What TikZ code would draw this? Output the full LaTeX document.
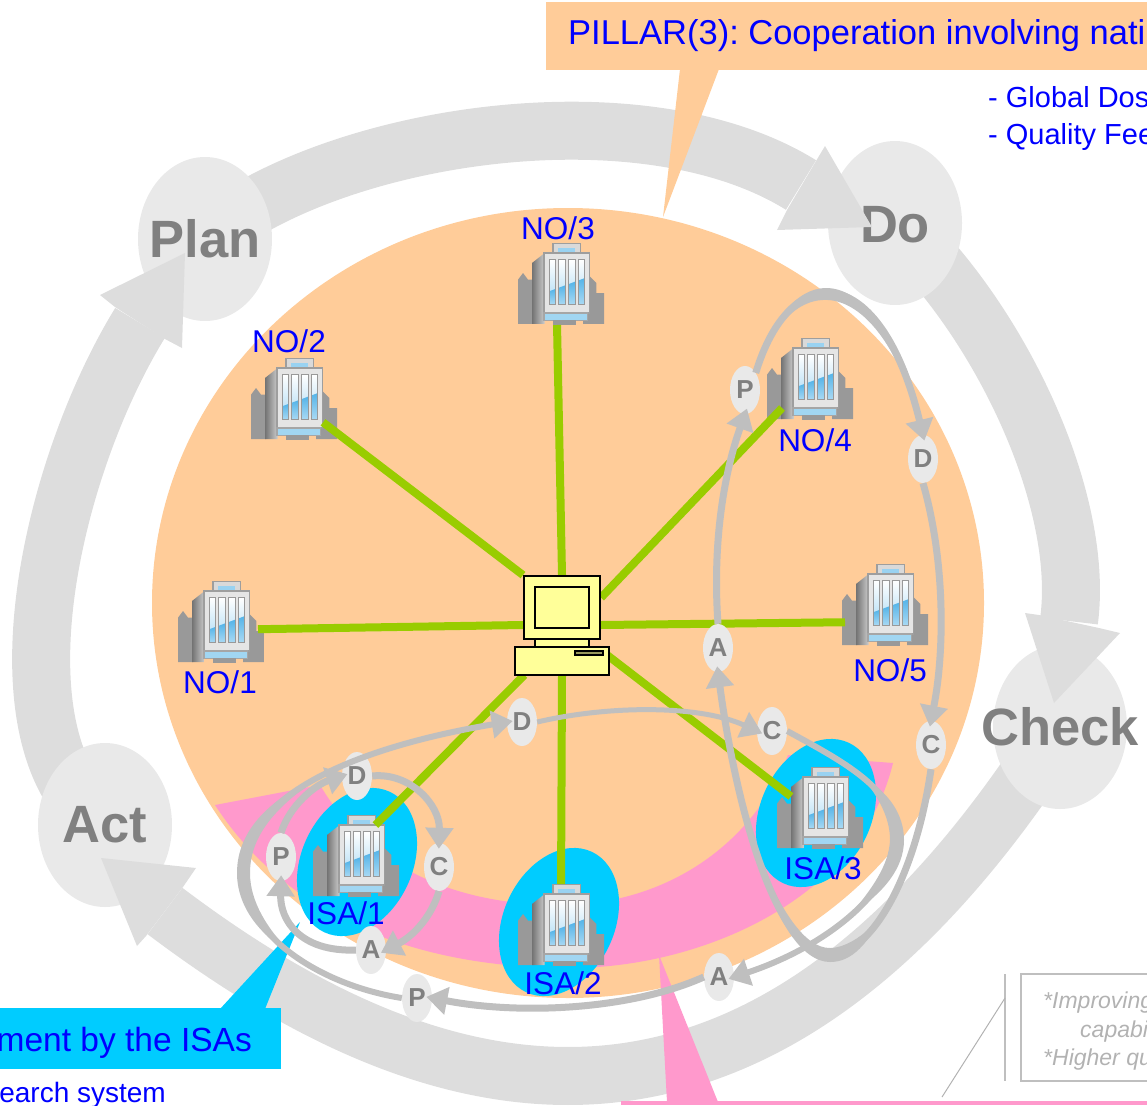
\documentclass[tikz,border=0pt]{standalone}
\usepackage{fontspec}
\setmainfont{Liberation Sans}
\usetikzlibrary{arrows.meta,shapes.geometric}
\definecolor{ringgray}{HTML}{DDDDDD}
\definecolor{pdcagray}{HTML}{E9E9E9}
\definecolor{looptext}{HTML}{808080}
\definecolor{loopline}{HTML}{BFBFBF}
\definecolor{peach}{HTML}{FFCC99}
\definecolor{isapink}{HTML}{FF99CC}
\definecolor{isacyan}{HTML}{00CCFF}
\definecolor{linkgreen}{HTML}{99CC00}
\definecolor{pcyellow}{HTML}{FFFF99}
\definecolor{winblue}{HTML}{55B4E8}
\def\fs#1{\fontsize{#1}{#1}\selectfont}
\frenchspacing
\tikzset{
	ringshaft/.style={line width=58pt, color=ringgray},
	bigpdca/.style={ellipse, fill=pdcagray, minimum width=134pt, minimum height=164pt, inner sep=0pt},
	bigtext/.style={text=looptext, font=\fs{52.5}\bfseries, inner sep=0pt},
	smallpdca/.style={ellipse, fill=pdcagray, minimum width=30pt, minimum height=48pt, inner sep=0pt, text=looptext, font=\fs{26}\bfseries},
	looparrow/.style={line width=7pt, color=loopline, shorten >=-6pt, -{Triangle[width=27pt,length=21pt]}},
	greenlink/.style={line width=8pt, color=linkgreen},
	towerbox/.style={rectangle, minimum width=58pt, minimum height=60pt, inner sep=0pt, outer sep=0pt},
	pcbox/.style={rectangle, minimum width=78pt, minimum height=100pt, inner sep=0pt, outer sep=0pt},
	pcpart/.style={draw=black, fill=pcyellow, line width=2.2pt},
	bluelabel/.style={text=blue, font=\fs{31.5}, inner sep=0pt},
	graytext/.style={text=black!30, font=\fs{23}\itshape, inner sep=0pt, anchor=base west},
	building/.pic={
		\begin{scope}[x=0.3333pt,y=-0.3333pt,shift={(-184,-160)}]
			\fill[black!40] (55,283) -- (55,150) -- (70,130) -- (85,150) -- (100,150) -- (100,283) -- cycle;
			\fill[black!40] (250,283) -- (250,140) -- (270,140) -- (290,160) -- (290,190) -- (313,190) -- (313,283) -- cycle;
			\shade[left color=black!55, right color=black!20] (97,283) -- (97,100) -- (135,70) -- (135,283) -- cycle;
			\draw[fill=black!15, draw=black!38, line width=1.2pt] (160,42) rectangle (243,72);
			\fill[winblue!60!white] (175,54) rectangle (225,66);
			\draw[fill=black!10, draw=black!38, line width=1.5pt] (133,70) rectangle (270,250);
			\foreach \x in {148,177,207,236}{
				\pgfmathsetmacro{\ya}{185-(\x-148)*0.37}
				\pgfmathsetmacro{\yb}{185-(\x+19-148)*0.37}
				\shade[top color=white, bottom color=winblue!50!white] (\x,90) rectangle (\x+19,225);
				\shade[top color=winblue, bottom color=winblue!50!white] (\x,\ya) -- (\x+19,\yb) -- (\x+19,225) -- (\x,225) -- cycle;
				\draw[black!40, line width=0.8pt] (\x,90) rectangle (\x+19,225);
			}
			\draw[fill=winblue!55!white, draw=black!35, line width=1.2pt] (133,250) rectangle (263,272);
			\fill[black!40] (160,272) rectangle (230,285);
		\end{scope}
	}
}

\begin{document}
\begin{tikzpicture}[x=1pt,y=-1pt]
		%%%%% START %%%%%
		\useasboundingbox (0,0) rectangle (1147,1105);
		
		% big circle and band
		\fill[peach] (568,603) ellipse (416 and 395);
		\fill[isapink] (215,805) .. controls (290,920) and (420,968) .. (570,968) .. controls (700,968) and (860,900) .. (893,763) -- (788,755) .. controls (750,850) and (660,905) .. (560,905) .. controls (460,905) and (370,870) .. (320,785) -- cycle;
		
		% ring
		\node[bigpdca, fill=none] (plan) at (205,239) {};
		\node[bigpdca, fill=none] (do) at (895,223) {};
		\node[bigpdca, fill=none] (check) at (1060,727) {};
		\node[bigpdca, fill=none] (act) at (105,825) {};
		\coordinate (doend) at (801,185);
		\coordinate (checkend) at (1069,621);
		\coordinate (actend) at (165,911);
		\coordinate (planend) at (140,323);
		\draw[ringshaft] (plan.center) .. controls (330,135) and (640,85) .. (doend);
		\draw[ringshaft] (do.center) .. controls (1000,320) and (1085,500) .. (checkend);
		\draw[ringshaft] (check.center) .. controls (757,1205) and (435,1115) .. (actend);
		\draw[ringshaft] (act.center) .. controls (-10,744) and (48,473) .. (planend);
		\node[bigpdca, label={[bigtext]center:Plan}] at (plan) {};
		\node[bigpdca, label={[bigtext,yshift=-2pt]center:Do}] at (do) {};
		\node[bigpdca, label={[bigtext]center:Check}] at (check) {};
		\node[bigpdca, label={[bigtext]center:Act}] at (act) {};
		\fill[ringgray] (816,161) -- (825,146) -- (872,227) -- (777,230) -- (787,210) -- cycle;
		\fill[ringgray] (1039,615) -- (1025,613) -- (1054,703) -- (1120,633) -- (1099,628) -- cycle;
		\fill[ringgray] (183,887) -- (196,868) -- (101,858) -- (137,946) -- (146,936) -- cycle;
		\fill[ringgray] (115,307) -- (100,295) -- (185,253) -- (182,348) -- (165,339) -- cycle;
		
		% callouts
		\fill[peach] (546,2) rectangle (1147,70);
		\fill[peach] (680,69) -- (719,69) -- (663,217) -- cycle;
		\node[text=blue, font=\fs{34.5}, inner sep=0pt, anchor=base west] (pillar) at (568,45) {PILLAR(3): Cooperation involving nati};
		\node[text=blue, font=\fs{29}, inner sep=0pt, anchor=base west] (dose) at (988,108) {- Global Dos};
		\node[text=blue, font=\fs{29}, inner sep=0pt, anchor=base west] (feed) at (988,144) {- Quality Fee};
		
		\fill[isacyan] (300,922) -- (265,1009) -- (220,1009) -- cycle;
		\fill[isacyan] (0,1008) rectangle (281,1069);
		\node[text=blue, font=\fs{33.5}, inner sep=0pt, anchor=base east] (isatext) at (252,1051) {ment by the ISAs};
		\node[text=blue, font=\fs{28}, inner sep=0pt, anchor=base east] (research) at (166,1102) {earch system};
		
		\fill[isapink] (659,955) -- (718,1102) -- (667,1102) -- cycle;
		\fill[isapink] (621,1101) rectangle (1147,1105);
		
		\draw[line width=1.5pt, color=black!25] (1005,974) -- (1005,1081);
		\draw[line width=1.5pt, color=black!25] (1021,974) rectangle (1160,1081);
		\draw[line width=1pt, color=black!30] (1005,998) -- (942,1097);
		\node[graytext] (improve) at (1043,1008) {*Improving};
		\node[graytext] (capab) at (1080,1037) {capabi};
		\node[graytext] (quality) at (1043,1065) {*Higher qu};
		
		% blue spots
		\fill[isacyan, shift={(357,862)}, rotate=-25] (0,0) ellipse (55.5 and 77.5);
		\fill[isacyan, shift={(559,922)}, rotate=-25] (0,0) ellipse (55.5 and 77.5);
		\fill[isacyan, shift={(816,813)}, rotate=-25] (0,0) ellipse (55.5 and 77.5);
		
		% buildings
		\foreach \n/\x/\y in {no1/221/621,no2/294/398,no3/561/283,no4/810/378,no5/885/604,isa1/356/855,isa2/561/924,isa3/820/807}{
			\node[towerbox] (\n) at (\x,\y) {};
			\pic at (\n) {building};
		}
		
		% links
		\node[pcbox] (pc) at (562,625) {};
		\draw[greenlink, shorten >=8pt] (pc.west) -- (no1.-16);
		\draw[greenlink] (pc.128) -- (no2.-40);
		\draw[greenlink, shorten >=12pt] (pc.north) -- (no3.-98);
		\draw[greenlink] (pc.35) -- (no4.227);
		\draw[greenlink, shorten >=11pt] (pc.east) -- (no5.212);
		\draw[greenlink] (pc.233) -- (isa1.57);
		\draw[greenlink, shorten >=10pt] (pc.south) -- (isa2.north);
		\draw[greenlink] (pc.-33) -- (isa3.160);
		
		% computer
		\draw[pcpart] (535,639) rectangle (589,647);
		\draw[pcpart] (524,576) rectangle (600,639);
		\draw[pcpart] (535,587) rectangle (589,628);
		\draw[pcpart] (515,647) rectangle (609,675);
		\draw[pcpart, fill=pcyellow!60!black, line width=1.5pt] (575,651) rectangle (603,655);
		
		% names
		\node[bluelabel] (no1name) at (220,682) {NO/1};
		\node[bluelabel] (no2name) at (289,341) {NO/2};
		\node[bluelabel] (no3name) at (558,228) {NO/3};
		\node[bluelabel] (no4name) at (815,440) {NO/4};
		\node[bluelabel] (no5name) at (890,670) {NO/5};
		\node[bluelabel] (isa1name) at (346,913) {ISA/1};
		\node[bluelabel] (isa2name) at (563,983) {ISA/2};
		\node[bluelabel] (isa3name) at (823,868) {ISA/3};
		
		% small cycles
		\node[smallpdca] (pfour) at (745,390) {P};
		\node[smallpdca] (dfour) at (923,459) {D};
		\node[smallpdca] (cfour) at (931,745) {C};
		\node[smallpdca] (afour) at (718,648) {A};
		\node[smallpdca] (pisa) at (417,998) {P};
		\node[smallpdca] (disa) at (522,722) {D};
		\node[smallpdca] (cisa) at (772,731) {C};
		\node[smallpdca] (aisa) at (719,977) {A};
		\node[smallpdca] (pone) at (281,857) {P};
		\node[smallpdca] (done) at (357,776) {D};
		\node[smallpdca] (cone) at (439,867) {C};
		\node[smallpdca] (aone) at (371,950) {A};
		
		\draw[looparrow] (pfour.north east) .. controls (790,259) and (880,259) .. (dfour.north);
		\fill[loopline] (pfour.north east) .. controls (790,251) and (880,251) .. (dfour.north) .. controls (880,267) and (790,267) .. (pfour.north east);
		\draw[looparrow] (dfour.south) .. controls (945,560) and (945,650) .. (cfour.north);
		\draw[looparrow] (cfour.south) .. controls (915,880) and (870,955) .. (830,955) .. controls (775,955) and (735,800) .. (afour.south);
		\fill[loopline] (889,904) .. controls (868,945) and (852,962) .. (830,962) .. controls (802,962) and (775,920) .. (760,862) .. controls (783,913) and (805,948) .. (830,948) .. controls (848,948) and (874,930) .. (889,904) -- cycle;
		\draw[looparrow] (afour.north) .. controls (712,540) and (725,470) .. (pfour.south);
		
		\draw[looparrow, line width=6pt] (pisa.west) .. controls (320,985) and (243,935) .. (243,873) .. controls (243,790) and (370,745) .. (disa.west);
		\fill[loopline] (292,954) .. controls (259,935) and (237,906) .. (237,873) .. controls (237,829) and (272,797) .. (323,775) .. controls (280,803) and (250,833) .. (250,873) .. controls (250,902) and (268,930) .. (292,954) -- cycle;
		\draw[looparrow, line width=5pt] (disa.east) .. controls (610,705) and (700,705) .. (cisa.west);
		\draw[looparrow, line width=6pt] (cisa.east) .. controls (840,760) and (900,790) .. (897,840) .. controls (893,890) and (830,945) .. (aisa.east);
		\fill[loopline] (863,778) .. controls (889,792) and (904,815) .. (904,840) .. controls (904,868) and (884,893) .. (850,915) .. controls (872,889) and (889,865) .. (890,840) .. controls (890,818) and (879,798) .. (863,778) -- cycle;
		\draw[looparrow] (aisa.west) .. controls (630,1010) and (520,1015) .. (pisa.east);
		
		\draw[looparrow] (pone.north) .. controls (290,805) and (315,785) .. (done.west);
		\draw[looparrow] (done.east) .. controls (410,772) and (440,805) .. (cone.north);
		\draw[looparrow] (cone.south) .. controls (432,915) and (415,935) .. (aone.east);
		\draw[looparrow] (aone.west) .. controls (300,952) and (280,920) .. (pone.south);
		
		%%%%% END %%%%%
	\end{tikzpicture}
\end{document}
